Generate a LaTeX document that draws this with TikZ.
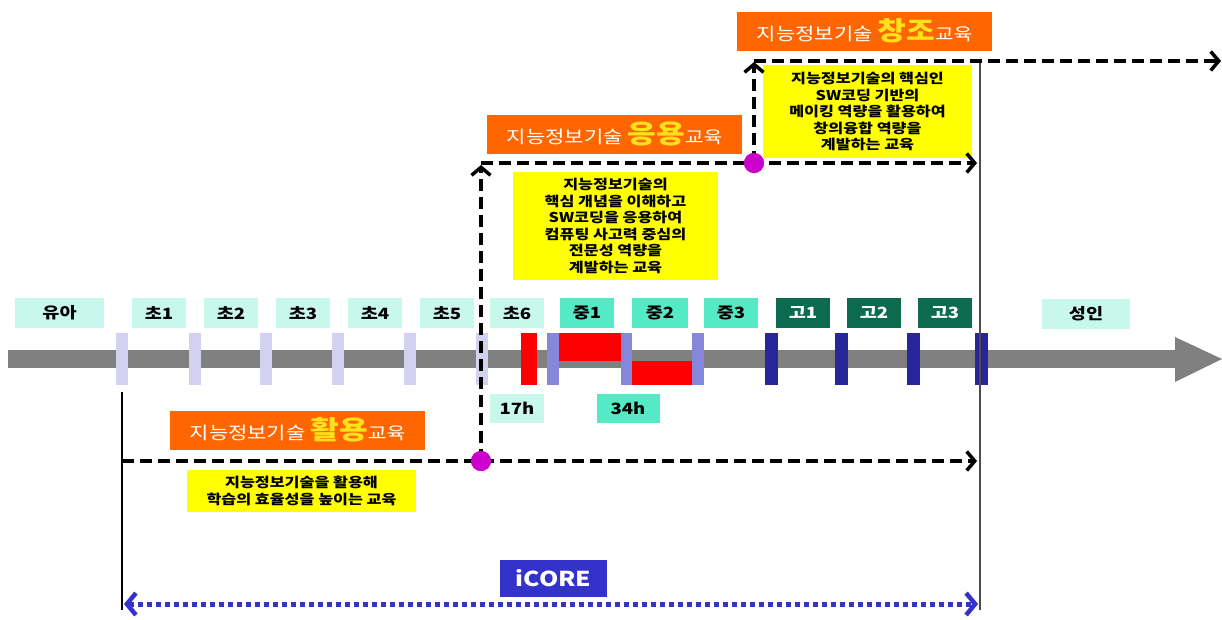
\documentclass[tikz,border=0pt]{standalone}
\usepackage{fontspec}
\newfontfamily\kr[FakeStretch=1.2]{Noto Sans CJK KR}
\usetikzlibrary{arrows.meta}
\definecolor{mintL}{HTML}{C8F8EC}
\definecolor{mintM}{HTML}{55EAC6}
\definecolor{dgreen}{HTML}{0C6A4E}
\definecolor{lav}{HTML}{D2D2F0}
\definecolor{peri}{HTML}{8686DA}
\definecolor{navy}{HTML}{27279A}
\definecolor{orng}{HTML}{FF6600}
\definecolor{gold}{HTML}{FFE21A}
\definecolor{ylw}{HTML}{FFFF00}
\definecolor{mag}{HTML}{CC00CC}
\definecolor{icb}{HTML}{3333CC}
\definecolor{barg}{HTML}{808080}
\tikzset{
  lab/.style={fill=#1, minimum height=30pt, inner sep=0pt, font=\kr\bfseries\fontsize{15.5}{17}\selectfont},
  orn/.style={fill=orng, text=white, minimum width=255pt, minimum height=39pt, inner sep=0pt, font=\kr},
  ybox/.style={fill=ylw, inner sep=0pt, align=center, font=\kr\bfseries\fontsize{13.5}{16.5}\selectfont},
  dot/.style={circle, fill=mag, minimum size=20pt, inner sep=0pt},
  dsh/.style={line width=3.5pt, dash pattern=on 12pt off 6pt, -{Straight Barb[length=8pt,width=19pt,line width=3.5pt]}},
  tick/.style={fill=#1, draw=none},
}
\newcommand{\olab}[1]{{\fontsize{17.5}{20}\selectfont 지능정보기술 }{\color{gold}\bfseries\fontsize{26}{28}\selectfont #1}{\fontsize{17}{18}\selectfont 교육}}
\begin{document}
\begin{tikzpicture}[x=1pt,y=-1pt]
\useasboundingbox (0,0) rectangle (1222,619);
\fill[white] (0,0) rectangle (1222,619);
% timeline bar
\fill[barg] (8,350) rectangle (1178,368);
\fill[barg] (1175,337) -- (1222,359) -- (1175,382) -- cycle;
% ticks
\foreach \x in {122,195,266,338,410,482} \fill[lav] (\x-6,333) rectangle (\x+6,385);
\fill[red] (521,333) rectangle (537,385);
\fill[peri] (547,333) rectangle (559,385);
\fill[red] (559,333) rectangle (622,361);
\fill[peri] (621,333) rectangle (632,385);
\fill[red] (632,361) rectangle (694,385);
\fill[peri] (692,333) rectangle (704,385);
\foreach \x in {771,841,913,981} \fill[navy] (\x-6.5,333) rectangle (\x+6.5,385);
% top labels
\node[lab=mintL, minimum width=89pt] (ya) at (59.5,313) {유아};
\node[lab=mintL, minimum width=54pt] (c1) at (159,313) {초1};
\node[lab=mintL, minimum width=54pt] (c2) at (231,313) {초2};
\node[lab=mintL, minimum width=54pt] (c3) at (303,313) {초3};
\node[lab=mintL, minimum width=54pt] (c4) at (375,313) {초4};
\node[lab=mintL, minimum width=54pt] (c5) at (447,313) {초5};
\node[lab=mintL, minimum width=54pt] (c6) at (517,313) {초6};
\node[lab=mintM, minimum width=54pt] (m1) at (587,313) {중1};
\node[lab=mintM, minimum width=56pt] (m2) at (660,313) {중2};
\node[lab=mintM, minimum width=54pt] (m3) at (731,313) {중3};
\node[lab=dgreen, text=white, minimum width=54pt] (h1) at (803,313) {고1};
\node[lab=dgreen, text=white, minimum width=54pt] (h2) at (874,313) {고2};
\node[lab=dgreen, text=white, minimum width=54pt] (h3) at (945,313) {고3};
\node[lab=mintL, minimum width=88pt] (ad) at (1086,314) {성인};
\node[lab=mintL, minimum width=54pt, minimum height=29pt] (h17) at (517,408) {17h};
\node[lab=mintM, minimum width=63pt, minimum height=29pt] (h34) at (628,408) {34h};
% thin vertical lines
\coordinate (vl1) at (122,392);
\coordinate (vl2) at (122,610);
\coordinate (vr1) at (980,60);
\coordinate (vr2) at (980,610);
\draw[line width=1.2pt] (vl1) -- (vl2);
\draw[line width=1.2pt, black!70] (vr1) -- (vr2);
% orange labels
\node[orn] (o1) at (297.5,430) {\olab{활용}};
\node[orn] (o2) at (614.5,134) {\olab{응용}};
\node[orn] (o3) at (864.5,31) {\olab{창조}};
% yellow boxes
\node[ybox, minimum width=229pt, minimum height=42pt] (y1) at (301.5,491) {지능정보기술을 활용해\\학습의 효율성을 높이는 교육};
\node[ybox, minimum width=205pt, minimum height=108pt] (y2) at (615.5,226) {지능정보기술의\\핵심 개념을 이해하고\\SW코딩을 응용하여\\컴퓨팅 사고력 중심의\\전문성 역량을\\계발하는 교육};
\node[ybox, minimum width=209pt, minimum height=93pt] (y3) at (867.5,111.5) {지능정보기술의 핵심인\\SW코딩 기반의\\메이킹 역량을 활용하여\\창의융합 역량을\\계발하는 교육};
% dashed paths
\node[dot] (d1) at (481,461) {};
\node[dot] (d2) at (754,163) {};
\coordinate (s1) at (122,461);
\coordinate (e1) at (977,461);
\coordinate (t1) at (481,163);
\coordinate (u1) at (481,165);
\coordinate (e2) at (977,163);
\coordinate (t2) at (754,61);
\coordinate (u2) at (754,62);
\coordinate (e3) at (1221,61);
\draw[dsh] (s1) -- (e1);
\draw[dsh] (d1.center) -- (u1);
\draw[dsh] (t1) -- (e2);
\draw[dsh] (d2.center) -- (u2);
\draw[dsh] (t2) -- (e3);
\node[dot] at (d1) {};
\node[dot] at (d2) {};
% iCORE
\node[fill=icb, text=white, minimum width=107pt, minimum height=37pt, inner sep=0pt, font=\kr\bfseries\fontsize{20.5}{22}\selectfont] (ic) at (553.5,578) {iCORE};
\coordinate (b1) at (124,604);
\coordinate (b2) at (978,604);
\draw[icb, line width=5pt, dash pattern=on 5pt off 4pt, {Straight Barb[length=9pt,width=22pt,line width=4.5pt]}-{Straight Barb[length=9pt,width=22pt,line width=4.5pt]}] (b1) -- (b2);
\end{tikzpicture}
\end{document}
